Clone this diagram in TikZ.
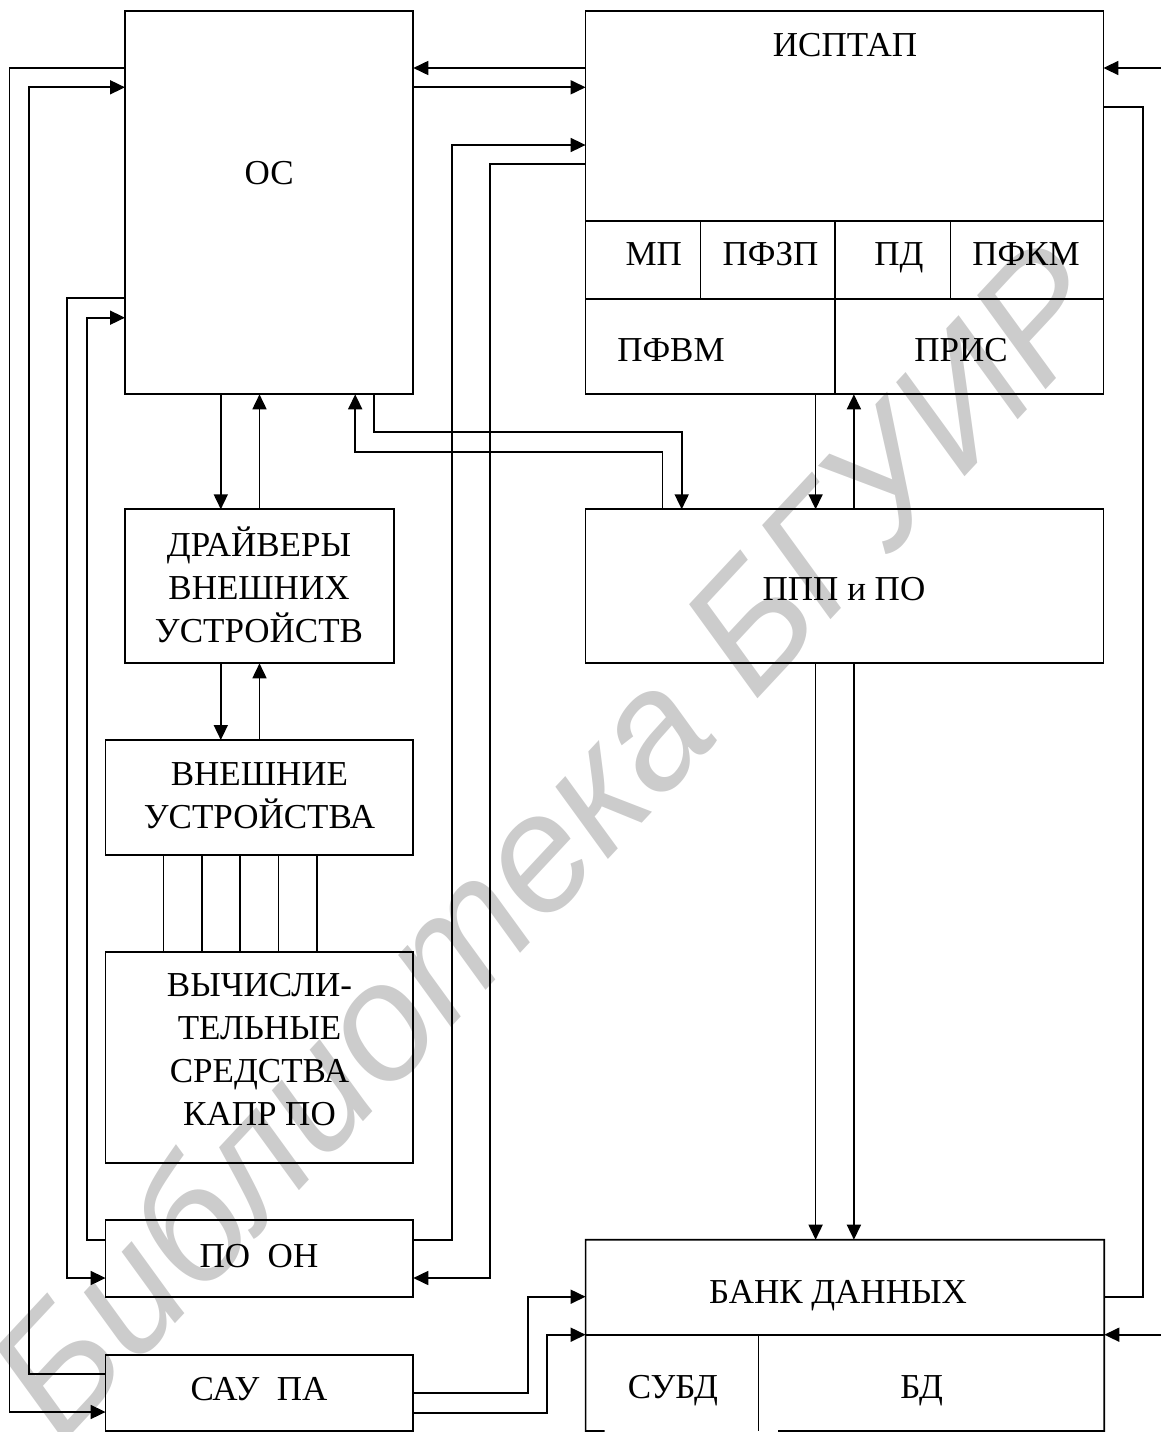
\documentclass[tikz,border=0pt]{standalone}
\usepackage{fontspec}
\setmainfont{Liberation Serif}
\newfontfamily\wmfont{Liberation Sans}
\usetikzlibrary{arrows.meta}
\begin{document}
\begin{tikzpicture}[x=1pt,y=-1pt,
  box/.style={draw, line width=1.7pt, inner sep=0pt, outer sep=0pt, anchor=north west},
  lbl/.style={inner sep=0pt, outer sep=0pt, font=\fontsize{35}{43}\selectfont, anchor=base},
  mlbl/.style={lbl, align=center},
  conn/.style={line width=1.7pt},
  arr/.style={conn, -{Triangle[length=15pt,width=14pt]}},
]
\useasboundingbox (0,0) rectangle (1161,1432);

% watermark
\node[rotate=47, text=black!20, inner sep=0pt, font=\wmfont\itshape\fontsize{166}{166}\selectfont] (wm) at (546,838) {Библиотека БГУИР};

% boxes
\node[box, minimum width=288.3pt, minimum height=383.6pt] (os) at (125,10.7) {};
\node[box, minimum width=517.8pt, minimum height=383.6pt] (isp) at (585.6,10.7) {};
\node[box, minimum width=269.2pt, minimum height=154pt] (drv) at (125,509.3) {};
\node[box, minimum width=307.7pt, minimum height=115pt] (ext) at (105.6,740) {};
\node[box, minimum width=307.7pt, minimum height=211pt] (comp) at (105.6,951.7) {};
\node[box, minimum width=307.7pt, minimum height=76.4pt] (poon) at (105.6,1220.3) {};
\node[box, minimum width=307.7pt, minimum height=76.3pt] (sau) at (105.6,1354.7) {};
\node[box, minimum width=517.8pt, minimum height=154pt] (ppp) at (585.6,509.3) {};
\node[box, draw=none, minimum width=518.7pt, minimum height=191.3pt] (bank) at (585.6,1239.7) {};
\draw[conn] (604.6,1431) -- (bank.south west) -- (bank.north west) -- (bank.north east) -- (bank.south east) -- (778.2,1431);

% subdivisions of ИСПТАП
\draw[conn] (isp.west |- 0,221) -- (isp.east |- 0,221);
\draw[conn] (isp.west |- 0,299) -- (isp.east |- 0,299);
\draw[conn] (700.5,221) -- (700.5,299);
\draw[conn] (950.4,221) -- (950.4,299);
\draw[conn] (834.8,221) -- (isp.south -| 834.8,0);

% subdivisions of БАНК ДАННЫХ
\draw[conn] (bank.west |- 0,1334.7) -- (bank.east |- 0,1334.7);
\draw[conn] (758.4,1334.7) -- (bank.south -| 758.4,0);

% labels
\node[lbl] (tos) at (269.2,184.3) {ОС};
\node[lbl] (tisp) at (845,56.7) {ИСПТАП};
\node[lbl] (tmp) at (653.7,265) {МП};
\node[lbl] (tpfzp) at (770.5,265) {ПФЗП};
\node[lbl] (tpd) at (899,265) {ПД};
\node[lbl] (tpfkm) at (1026,265) {ПФКМ};
\node[lbl] (tpfvm) at (671,361.7) {ПФВМ};
\node[lbl] (tpris) at (961,361.7) {ПРИС};
\node[mlbl] (tdrv) at (259,642) {ДРАЙВЕРЫ\\ВНЕШНИХ\\УСТРОЙСТВ};
\node[mlbl] (text) at (259.5,828) {ВНЕШНИЕ\\УСТРОЙСТВА};
\node[mlbl] (tcomp) at (259.5,1125) {ВЫЧИСЛИ-\\ТЕЛЬНЫЕ\\СРЕДСТВА\\КАПР ПО};
\node[lbl] (tppp) at (844,600) {ППП и ПО};
\node[lbl] (tpoon) at (259,1267) {ПО\ \ ОН};
\node[lbl] (tsau) at (259,1400.3) {САУ\ \ ПА};
\node[lbl] (tbank) at (838,1303.3) {БАНК ДАННЫХ};
\node[lbl] (tsubd) at (672.9,1398.3) {СУБД};
\node[lbl] (tbd) at (921.6,1398.3) {БД};

% connectors
\draw[arr] (isp.west |- 0,68) -- (os.east |- 0,68);
\draw[arr] (os.east |- 0,87.3) -- (isp.west |- 0,87.3);
\draw[arr] (os.west |- 0,68) -| (9.6,1412) -- (sau.west |- 0,1412);
\draw[arr] (sau.west |- 0,1374) -| (29,87.3) -- (os.west |- 0,87.3);
\draw[arr] (os.west |- 0,298.3) -| (67.3,1278) -- (poon.west |- 0,1278);
\draw[arr] (poon.west |- 0,1239.7) -| (86.7,317.7) -- (os.west |- 0,317.7);
\draw[arr] (poon.east |- 0,1239.7) -| (451.7,145) -- (isp.west |- 0,145);
\draw[arr] (isp.west |- 0,164) -| (490,1278) -- (poon.east |- 0,1278);
\draw[arr] (os.south -| 220.8,0) -- (drv.north -| 220.8,0);
\draw[arr] (drv.north -| 259.5,0) -- (os.south -| 259.5,0);
\draw[arr] (drv.south -| 220.8,0) -- (ext.north -| 220.8,0);
\draw[arr] (ext.north -| 259.5,0) -- (drv.south -| 259.5,0);
\foreach \xx in {163.4,201.7,240.3,278.6,317.3}
  \draw[conn] (ext.south -| \xx,0) -- (comp.north -| \xx,0);
\draw[arr] (os.south -| 374.3,0) |- (681.7,432.3) -- (ppp.north -| 681.7,0);
\draw[arr] (ppp.north -| 662.6,0) |- (355.2,451.7) -- (os.south -| 355.2,0);
\draw[arr] (isp.south -| 815.6,0) -- (ppp.north -| 815.6,0);
\draw[arr] (ppp.north -| 853.9,0) -- (isp.south -| 853.9,0);
\draw[arr] (ppp.south -| 815.6,0) -- (bank.north -| 815.6,0);
\draw[arr] (ppp.south -| 853.9,0) -- (bank.north -| 853.9,0);
\draw[arr] (sau.east |- 0,1393) -| (528.3,1296.7) -- (bank.west |- 0,1296.7);
\draw[arr] (sau.east |- 0,1412.7) -| (547.3,1334.7) -- (bank.west |- 0,1334.7);
\draw[conn] (bank.east |- 0,1296.7) -| (1143,106.7) -- (isp.east |- 0,106.7);
\coordinate (inA) at (1161,68);
\coordinate (inB) at (1161,1334.7);
\draw[arr] (inA) -- (isp.east |- inA);
\draw[arr] (inB) -- (bank.east |- inB);
\end{tikzpicture}
\end{document}
